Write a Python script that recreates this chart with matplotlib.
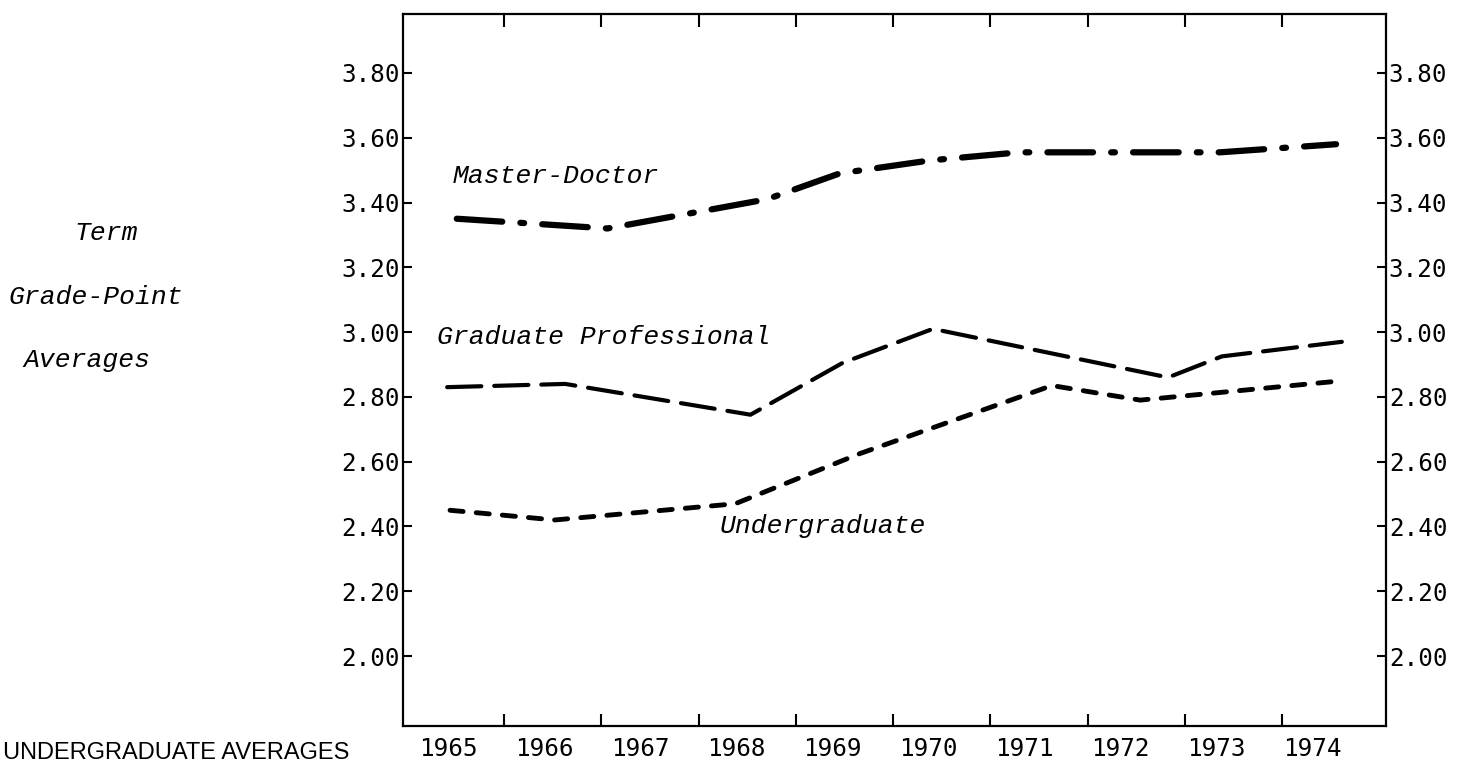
import matplotlib.pyplot as plt
import numpy as np

# values; x is in years (year labels sit on whole years)
years = [1965, 1966, 1967, 1968, 1969, 1970, 1971, 1972, 1973, 1974]
year_labels = [str(y) for y in years]
gpa_ticks = [2.00, 2.20, 2.40, 2.60, 2.80, 3.00, 3.20, 3.40, 3.60, 3.80]

md_x = [1965.09, 1966.66, 1968.32, 1969.08, 1970.02, 1970.95, 1973.04, 1974.25]
md_y = [3.35, 3.32, 3.41, 3.49, 3.53, 3.555, 3.555, 3.58]

gp_x = [1964.99, 1966.22, 1968.15, 1969.11, 1970.05, 1972.50, 1973.06, 1974.31]
gp_y = [2.83, 2.84, 2.745, 2.905, 3.01, 2.86, 2.925, 2.97]

ug_x = [1965.02, 1966.11, 1967.99, 1969.29, 1971.29, 1972.21, 1974.32]
ug_y = [2.45, 2.42, 2.47, 2.625, 2.835, 2.79, 2.85]

W, H = 1471, 766
fig = plt.figure(figsize=(W / 100, H / 100), dpi=100)
ax = fig.add_axes([403 / W, 1 - 726 / H, (1386 - 403) / W, (726 - 14) / H])

# dash patterns are in multiples of the line width
ax.plot(md_x, md_y, color='black', lw=4.5, dash_capstyle='round',
        linestyle=(0, (7.3, 2.9, 0.6, 2.9)))
ax.plot(gp_x, gp_y, color='black', lw=3.0, dash_capstyle='round',
        linestyle=(0, (8.2, 3.1)))
ax.plot(ug_x, ug_y, color='black', lw=3.5, dash_capstyle='round',
        linestyle=(0, (2.7, 2.7)))

lab_font = dict(family='Liberation Mono', style='italic', fontsize=19)
ax.text(1965.05, 3.482, 'Master-Doctor', va='center', ha='left', **lab_font)
ax.text(1964.885, 2.984, 'Graduate Professional', va='center', ha='left', **lab_font)
ax.text(1967.83, 2.40, 'Undergraduate', va='center', ha='left', **lab_font)

ax.set_xlim(1964.53, 1974.77)
ax.set_ylim(1.784, 3.982)

# tick marks between the years, labels centred on the years
ax.set_xticks(1965.583 + 1.013 * np.arange(9))
ax.set_xticklabels([])
ax.set_xticks(years, minor=True)
ax.set_xticklabels(year_labels, minor=True, family='DejaVu Sans Mono', fontsize=17.5)
ax.tick_params(axis='x', which='major', direction='in', length=9, width=1.5,
               top=True, bottom=True)
ax.tick_params(axis='x', which='minor', length=0, pad=8)

ax.set_yticks(gpa_ticks)
ax.set_yticklabels(['%.2f' % v for v in gpa_ticks], family='DejaVu Sans Mono', fontsize=17.5)
ax.tick_params(axis='y', direction='in', length=6.5, width=1.5, left=True, right=True,
               labelleft=True, labelright=True, pad=2)

for s in ax.spines.values():
    s.set_linewidth(1.6)

side_font = dict(family='Liberation Mono', style='italic', fontsize=19)
fig.text(138 / W, 1 - 233 / H, 'Term', ha='right', va='center', **side_font)
fig.text(183 / W, 1 - 297 / H, 'Grade-Point', ha='right', va='center', **side_font)
fig.text(150 / W, 1 - 360 / H, 'Averages', ha='right', va='center', **side_font)

fig.text(3 / W, 2 / H, 'UNDERGRADUATE AVERAGES', ha='left', va='bottom',
         family='Liberation Sans', fontsize=17)

fig.savefig('out.png', dpi=100)
